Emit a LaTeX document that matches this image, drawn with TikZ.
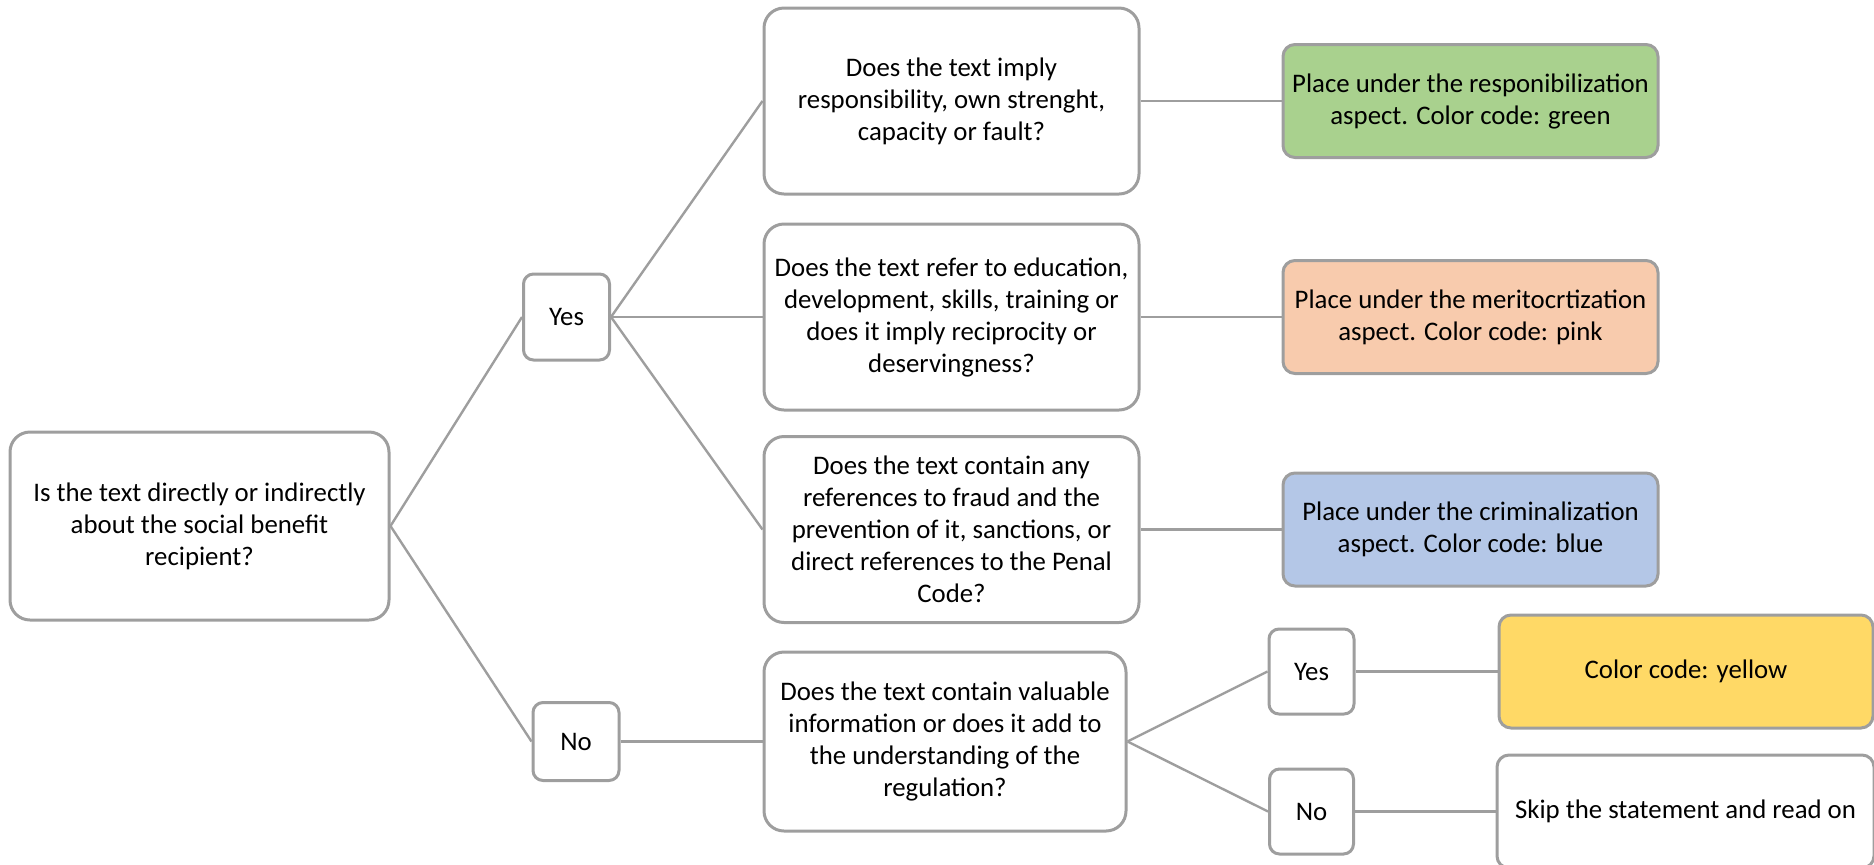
\documentclass[tikz,border=0pt]{standalone}
\usepackage{fontspec}
\setmainfont{Carlito}
\usepackage{tikz}
\definecolor{linegray}{RGB}{158,158,158}
\definecolor{codegreen}{RGB}{169,209,142}
\definecolor{codepink}{RGB}{248,203,173}
\definecolor{codeblue}{RGB}{180,199,231}
\definecolor{codeyellow}{RGB}{255,217,102}

\begin{document}
\begin{tikzpicture} [grow'=right,edge from parent path={(\tikzparentnode.east) -- (\tikzchildnode.west)},every node/.style={align=center,font=\fontsize{13.4}{16}\selectfont},
	edge from parent/.style={draw=linegray,line width=1.2pt},
	question/.style={draw=linegray,fill=white,line width=1.5pt,rounded corners=10pt,minimum width=187.5pt,minimum height=93pt,inner sep=0pt},
	answer/.style={draw=linegray,fill=white,line width=1.5pt,rounded corners=5pt,minimum width=43pt,minimum height=43pt,inner sep=0pt},
	outcome/.style={draw=linegray,fill=white,line width=1.5pt,rounded corners=6pt,minimum width=187.5pt,minimum height=56.5pt,inner sep=0pt}]
			\useasboundingbox (0,0) rectangle (937pt,-432pt);
			\node [question,minimum width=189.5pt,minimum height=94pt] (root) at (99.75pt,-263pt) {Is the text directly or indirectly\\about the social benefit\\recipient?}
				child [sibling distance=209pt,level distance=183.5pt]
				{
					node [answer] (yes) {Yes}
					child [sibling distance=108pt,level distance=192.5pt]
					{
						node [question] (resp) {Does the text imply\\responsibility, own strenght,\\capacity or fault?}
						child [level distance=259.5pt]
						{
							node [outcome,fill=codegreen] (green) {Place under the responibilization\\aspect. Color code: green}
						}
					}
					child [level distance=192.5pt]
					{
						node [question] (merit) {Does the text refer to education,\\development, skills, training or\\does it imply reciprocity or\\deservingness?}
						child [level distance=259.5pt]
						{
							node [outcome,fill=codepink] (pink) {Place under the meritocrtization\\aspect. Color code: pink}
						}
					}
					child [sibling distance=106.25pt,level distance=192.5pt]
					{
						node [question] (crime) {Does the text contain any\\references to fraud and the\\prevention of it, sanctions, or\\direct references to the Penal\\Code?}
						child [level distance=259.5pt]
						{
							node [outcome,fill=codeblue] (blue) {Place under the criminalization\\aspect. Color code: blue}
						}
					}
				}
				child [sibling distance=215.5pt,level distance=188.25pt]
				{
					node [answer,minimum height=39pt] (no) {No}
					child [level distance=184.5pt]
					{
						node [question,minimum width=181pt,minimum height=89.5pt] (value) {Does the text contain valuable\\information or does it add to\\the understanding of the\\regulation?}
						child [sibling distance=70pt,level distance=183.25pt]
						{
							node [answer,minimum width=42.5pt,minimum height=42.5pt] (valueyes) {Yes}
							child [level distance=187.25pt]
							{
								node [outcome,minimum width=187pt,fill=codeyellow] (yellow) {Color code: yellow}
							}
						}
						child [sibling distance=70pt,level distance=183.25pt]
						{
							node [answer,minimum width=42pt,minimum height=42.5pt] (valueno) {No}
							child [level distance=187pt]
							{
								node [outcome,minimum width=188.5pt] (skip) {Skip the statement and read on}
							}
						}
					}
				};
		\end{tikzpicture}
\end{document}
